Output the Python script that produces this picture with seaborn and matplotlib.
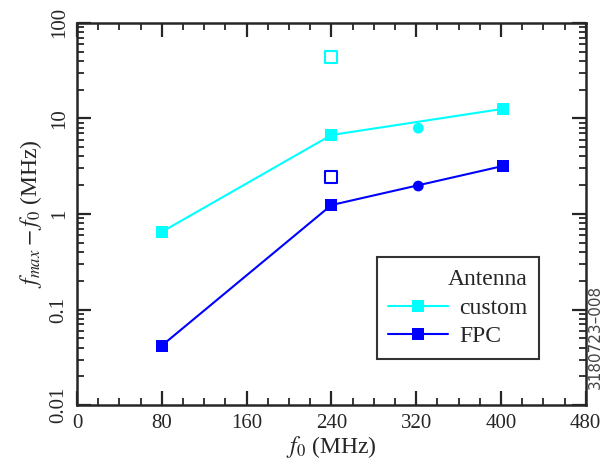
import matplotlib
matplotlib.use("Agg")
import matplotlib.pyplot as plt
import seaborn as sns
import pandas as pd
import numpy as np
from matplotlib.ticker import LogLocator, NullFormatter, MultipleLocator

# Data
f0_line = [80, 240, 402]
custom_line = [0.65, 6.7, 12.6]
fpc_line = [0.042, 1.24, 3.18]
f0_circle = [322]
custom_circle = [7.9]
fpc_circle = [1.96]
f0_open = [240]
custom_open = [44]
fpc_open = [2.45]
series_names = ["custom", "FPC"]
colors = {"custom": "#00ffff", "FPC": "#0000ff"}
yticks = [0.01, 0.1, 1, 10, 100]
ytick_labels = ["0.01", "0.1", "1", "10", "100"]
xticks = [0, 80, 160, 240, 320, 400, 480]

sns.set_style("ticks")
plt.rcParams['font.family'] = ['Liberation Serif', 'DejaVu Serif']
plt.rcParams['mathtext.fontset'] = 'stix'

df = pd.DataFrame({
    "f0": f0_line * 2,
    "val": custom_line + fpc_line,
    "Antenna": ["custom"] * 3 + ["FPC"] * 3,
})

fig = plt.figure(figsize=(6.02, 4.75), dpi=100)
ax = fig.add_axes([0.128, 0.147, 0.845, 0.805])

sns.lineplot(data=df, x="f0", y="val", hue="Antenna", palette=colors,
             marker="s", markersize=8, markeredgewidth=0, linewidth=1.5, ax=ax)

dc = pd.DataFrame({"f0": f0_circle * 2, "val": custom_circle + fpc_circle,
                   "Antenna": ["custom", "FPC"]})
sns.scatterplot(data=dc, x="f0", y="val", hue="Antenna", palette=colors,
                marker="o", s=60, linewidth=0, legend=False, ax=ax)
for name, vals in zip(series_names, [custom_open, fpc_open]):
    ax.scatter(f0_open, vals, marker="s", s=70, facecolors="white",
               edgecolors=colors[name], linewidths=1.5, zorder=3)

ax.set_yscale("log")
ax.set_xlim(0, 480)
ax.set_ylim(0.01, 100)
ax.set_xticks(xticks)
ax.xaxis.set_minor_locator(MultipleLocator(20))
ax.set_yticks(yticks)
ax.set_yticklabels(ytick_labels, rotation=90, va="center")
ax.yaxis.set_minor_locator(LogLocator(base=10, subs=np.arange(2, 10)))
ax.yaxis.set_minor_formatter(NullFormatter())
ax.tick_params(which="both", direction="in", top=True, right=True, labelsize=15, width=1.6)
ax.tick_params(which="major", length=10, pad=6)
ax.tick_params(which="minor", length=5, width=1.3)
for s in ax.spines.values():
    s.set_linewidth(1.8)

ax.set_xlabel("$f_0$ (MHz)", fontsize=17, labelpad=1)
ax.set_ylabel("$f_{max} - f_0$ (MHz)", fontsize=17, labelpad=4)

leg = ax.legend(title="Antenna", loc="lower left", bbox_to_anchor=(0.589, 0.12),
                borderaxespad=0,
                fontsize=17, title_fontsize=17, frameon=True, fancybox=False,
                edgecolor="black", alignment="right", handlelength=2.5,
                borderpad=0.5, labelspacing=0.3, handletextpad=0.5)
leg.get_frame().set_linewidth(1.5)

fig.text(0.989, 0.29, "3180723\u2013008", rotation=90, fontsize=11,
         family="DejaVu Sans", color="#444444", va="center", ha="center")

fig.savefig("out.png", dpi=100)
